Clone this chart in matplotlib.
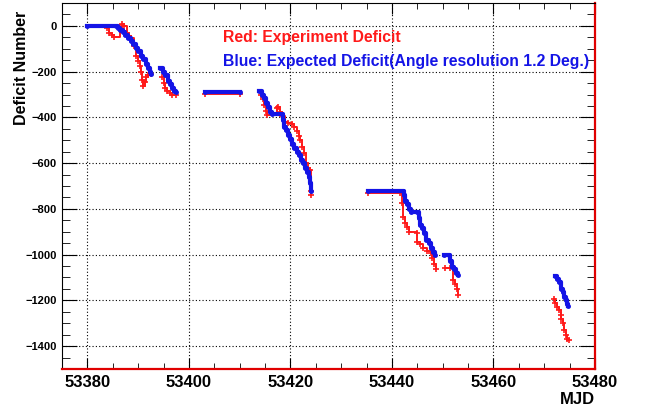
import numpy as np
import matplotlib.pyplot as plt
from matplotlib.ticker import MultipleLocator

plt.rcParams['font.family'] = ['Liberation Sans', 'DejaVu Sans']
plt.rcParams['font.weight'] = 'bold'

nan = np.nan

# expected deficit (blue), segments split by nan
mjd_exp = [53380.0, 53385.6, 53386.0, 53386.5, 53387.0, 53387.5, 53388.0, 53388.5, 53389.0, 53389.5,
           53390.0, 53390.5, 53391.0, 53391.5, 53392.0, 53392.3, 53392.5, nan,
           53394.3, 53394.8, 53395.3, 53395.8, 53396.2, 53396.6, 53397.0, 53397.5, nan,
           53403.2, 53410.0, nan,
           53413.9, 53414.4, 53414.8, 53415.2, 53415.6, 53416.0, 53416.3, 53418.3, 53418.5, 53418.7,
           53419.2, 53419.6, 53420.0, 53420.4, 53420.8, 53421.2, 53421.6, 53422.0, 53422.4, 53422.8,
           53423.2, 53423.6, 53423.9, 53424.0, nan,
           53435.2, 53442.1, 53442.3, 53442.6, 53443.0, 53443.4, 53443.8, 53445.0, 53445.3, 53445.6,
           53446.0, 53446.4, 53446.8, 53447.2, 53447.6, 53448.0, 53448.4, nan,
           53450.2, 53451.2, 53451.5, 53451.8, 53452.2, 53452.6, 53453.0, nan,
           53472.2, 53472.6, 53473.0, 53473.3, 53473.6, 53473.9, 53474.2, 53474.5, 53474.7]
def_exp = [0, 0, -8, -20, -28, -40, -55, -65, -80, -95,
           -110, -130, -145, -165, -185, -200, -210, nan,
           -185, -200, -215, -240, -255, -270, -285, -290, nan,
           -290, -290, nan,
           -285, -300, -315, -335, -355, -375, -385, -385, -410, -440,
           -455, -475, -495, -515, -535, -550, -565, -585, -600, -620,
           -640, -660, -685, -720, nan,
           -720, -720, -740, -765, -780, -800, -815, -815, -840, -870,
           -885, -905, -935, -950, -970, -990, -1000, nan,
           -1000, -1000, -1030, -1055, -1065, -1080, -1090, nan,
           -1095, -1105, -1120, -1150, -1165, -1185, -1200, -1215, -1225]

# experiment deficit (red)
mjd_obs = [53383.9, 53384.2, 53384.8, 53385.3, 53386.5, 53386.9, 53387.3, 53387.8, 53388.2, 53388.6,
           53389.2, 53389.6, 53390.0, 53390.3, 53390.6, 53390.8, 53391.0, 53391.3, 53391.6, 53392.0,
           53392.5, nan,
           53394.6, 53395.0, 53395.3, 53395.7, 53396.2, 53396.7, 53397.5, nan,
           53403.2, 53410.0, nan,
           53414.2, 53414.5, 53414.8, 53415.1, 53415.4, 53417.3, 53417.6, 53418.0, 53418.4, 53419.0,
           53419.6, 53420.4, 53420.8, 53421.2, 53421.6, 53421.9, 53422.2, 53422.6, 53423.0, 53423.4,
           53423.8, 53424.1, 53424.1, nan,
           53435.2, 53441.6, 53442.0, 53442.2, 53442.6, 53443.0, 53443.3, 53444.9, 53445.0, 53445.5,
           53446.2, 53447.0, 53447.6, 53447.9, 53448.2, 53448.6, nan,
           53450.4, 53451.5, 53452.0, 53452.4, 53452.8, 53453.1, nan,
           53471.9, 53472.2, 53472.5, 53473.0, 53473.3, 53473.3, 53473.6, 53473.9, 53474.2, 53474.5,
           53474.8]
def_obs = [-10, -30, -40, -48, -5, 8, 0, -30, -45, -55,
           -90, -130, -155, -175, -200, -235, -265, -245, -225, -215,
           -210, nan,
           -225, -250, -270, -285, -295, -300, -300, nan,
           -298, -298, nan,
           -300, -320, -345, -370, -390, -360, -355, -375, -395, -420,
           -425, -430, -440, -460, -480, -500, -530, -555, -600, -620,
           -630, -720, -740, nan,
           -730, -730, -775, -835, -860, -880, -900, -905, -945, -955,
           -970, -985, -995, -1015, -1040, -1065, nan,
           -1060, -1060, -1110, -1130, -1150, -1175, nan,
           -1195, -1210, -1230, -1240, -1265, -1280, -1300, -1330, -1350, -1370,
           -1375]

fig = plt.figure(figsize=(6.48, 4.12), dpi=100)
ax = fig.add_axes([0.0957, 0.1044, 0.8225, 0.8883])

ax.plot(mjd_obs, def_obs, color='#ff1a1a', lw=1.4, drawstyle='steps-post',
        marker='+', ms=5, mew=1.2)
ax.plot(mjd_exp, def_exp, color='#1414e6', lw=3, drawstyle='steps-post',
        marker='o', ms=2.5)

ax.set_xlim(53375, 53480)
ax.set_ylim(-1500, 100)
ax.xaxis.set_major_locator(MultipleLocator(20))
ax.xaxis.set_minor_locator(MultipleLocator(5))
ax.yaxis.set_major_locator(MultipleLocator(200))
ax.yaxis.set_minor_locator(MultipleLocator(50))

ax.tick_params(which='both', direction='in', top=True, right=True)
ax.tick_params(axis='x', which='major', length=8, labelsize=12, pad=4)
ax.tick_params(axis='x', which='minor', length=4)
ax.tick_params(axis='y', which='major', length=11, labelsize=8, pad=4)
ax.tick_params(axis='y', which='minor', length=6)

ax.grid(True, which='major', color='black', linestyle=(0, (1, 2)), linewidth=0.8)

for s in ['bottom', 'right']:
    ax.spines[s].set_color('#e00000')
    ax.spines[s].set_linewidth(1.6)

ax.set_ylabel('Deficit Number', fontsize=11.5, fontweight='bold')
ax.yaxis.set_label_coords(-0.062, 0.822)
ax.set_xlabel('MJD', fontsize=12, fontweight='bold', loc='right', labelpad=2)

ax.text(0.302, 0.907, 'Red: Experiment Deficit', transform=ax.transAxes,
        color='#ff1a1a', fontsize=11.3, fontweight='bold', va='center')
ax.text(0.302, 0.839, 'Blue: Expected Deficit(Angle resolution 1.2 Deg.)', transform=ax.transAxes,
        color='#1414e6', fontsize=11.3, fontweight='bold', va='center')

fig.savefig('out.png', dpi=100)
